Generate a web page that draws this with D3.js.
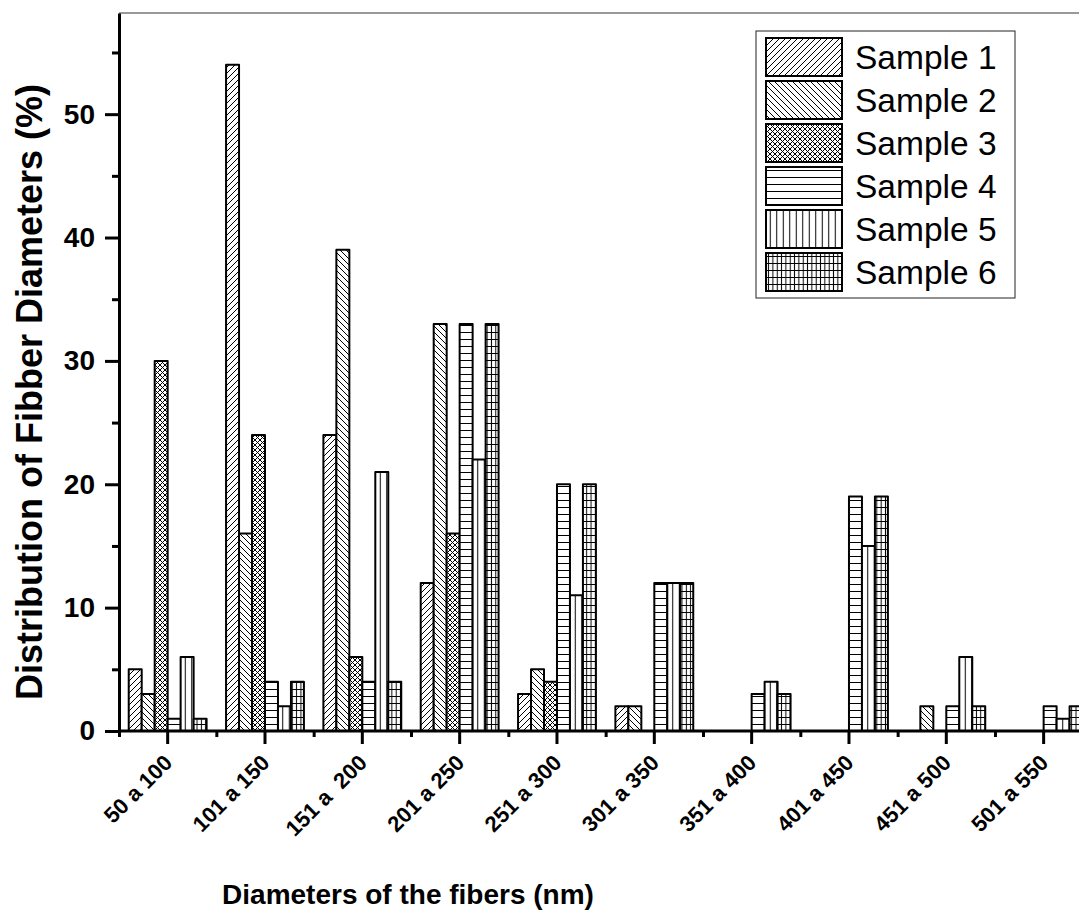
<!DOCTYPE html>
<html><head><meta charset="utf-8">
<script src="https://cdn.jsdelivr.net/npm/d3@7"></script>
<style>
html,body{margin:0;padding:0;background:#fff;}
svg text{font-family:"Liberation Sans",Arial,sans-serif;white-space:pre;}
</style></head>
<body>
<svg id="chart" width="1079" height="923"></svg>
<script>
const categories = ["50 a 100","101 a 150","151 a  200","201 a 250","251 a 300","301 a 350","351 a 400","401 a 450","451 a 500","501 a 550"];
const sampleNames = ["Sample 1","Sample 2","Sample 3","Sample 4","Sample 5","Sample 6"];
const sample1 = [5,54,24,12,3,2,0,0,0,0];
const sample2 = [3,16,39,33,5,2,0,0,2,0];
const sample3 = [30,24,6,16,4,0,0,0,0,0];
const sample4 = [1,4,4,33,20,12,3,19,2,2];
const sample5 = [6,2,21,22,11,12,4,15,6,1];
const sample6 = [1,4,4,33,20,12,3,19,2,2];
const majorYTicks = [0,10,20,30,40,50];
const minorYTicks = [5,15,25,35,45,55];
const series = [sample1,sample2,sample3,sample4,sample5,sample6];

const svg = d3.select("#chart");
const defs = svg.append("defs");
function pat(id,w,h,d){
  const p = defs.append("pattern").attr("id",id).attr("patternUnits","userSpaceOnUse").attr("width",w).attr("height",h);
  p.append("rect").attr("width",w).attr("height",h).attr("fill","#fff");
  p.append("path").attr("d",d).attr("stroke","#000").attr("stroke-width",1).attr("fill","none");
}
pat("p1",6,6,"M0,6L6,0M-1,1L1,-1M5,7L7,5");
pat("p2",6,6,"M0,0L6,6M-1,5L1,7M5,-1L7,1");
pat("p3",5,5,"M0,5L5,0M-1,1L1,-1M4,6L6,4M0,0L5,5M-1,4L1,6M4,-1L6,1");
pat("p4",8,7,"M0,3.5H8");
pat("p5",6.5,8,"M3.25,0V8");
pat("p6",4.33,7,"M2.16,0V7M0,3.5H4.33");

const x0 = 119, step = 97.33;
const x = d3.scaleBand().domain(categories).range([x0, x0+step*categories.length]).paddingInner(0.2).paddingOuter(0.1);
const xs = d3.scaleBand().domain(sampleNames).range([0, x.bandwidth()]);
const xi = d3.scaleLinear().domain([-0.5, categories.length-0.5]).range([x0, x0+step*categories.length]);
const y = d3.scaleLinear().domain([0,58.2]).range([731,13]);

// top frame line
svg.append("line").attr("x1",x0).attr("x2",1079).attr("y1",y(58.2)).attr("y2",y(58.2)).attr("stroke","#777").attr("stroke-width",1.5);

// bars
const bars = [];
series.forEach((s,si)=>s.forEach((v,ci)=>{ if(v>0) bars.push({si,ci,v}); }));
svg.append("g").selectAll("rect").data(bars).join("rect")
  .attr("x",d=>x(categories[d.ci])+xs(sampleNames[d.si]))
  .attr("width",xs.bandwidth())
  .attr("y",d=>y(d.v))
  .attr("height",d=>y(0)-y(d.v))
  .attr("fill",d=>`url(#p${d.si+1})`)
  .attr("stroke","#000").attr("stroke-width",2).attr("stroke-linejoin","round");

// axes
const yAx = svg.append("g").attr("transform",`translate(${x0},0)`)
  .call(d3.axisLeft(y).tickValues(majorYTicks).tickSize(14).tickSizeOuter(0).tickPadding(10));
const yMin = svg.append("g").attr("transform",`translate(${x0},0)`)
  .call(d3.axisLeft(y).tickValues(minorYTicks).tickSize(7).tickSizeOuter(0).tickFormat(""));
yMin.select(".domain").remove();
yAx.selectAll("text").style("font-size","28px").style("font-weight","bold").attr("fill","#000");

const xAx = svg.append("g").attr("transform",`translate(0,${y(0)})`)
  .call(d3.axisBottom(x).tickSize(13).tickSizeOuter(0));
xAx.select(".domain").attr("d",`M${x0},0H1079`);
xAx.selectAll("text").style("font-size","22px").style("font-weight","bold").attr("fill","#000")
  .attr("text-anchor","end").attr("dy",null).attr("y",null)
  .attr("transform","translate(6,33) rotate(-45)");
const xMin = svg.append("g").attr("transform",`translate(0,${y(0)})`)
  .call(d3.axisBottom(xi).tickValues(d3.range(-0.5,categories.length,1)).tickSize(6).tickSizeOuter(0).tickFormat(""));
xMin.select(".domain").remove();

svg.selectAll(".domain, .tick line").attr("stroke","#000").attr("stroke-width",3);

// axis titles
svg.append("text").attr("x",408).attr("y",904).attr("text-anchor","middle")
  .style("font-size","28px").style("font-weight","bold").text("Diameters of the fibers (nm)");
svg.append("text").attr("transform","translate(42,392) rotate(-90)").attr("text-anchor","middle")
  .style("font-size","36px").style("font-weight","bold").text("Distribution of Fibber Diameters (%)");

// legend
const lg = svg.append("g");
lg.append("rect").attr("x",756).attr("y",31).attr("width",259).attr("height",267).attr("fill","#fff").attr("stroke","#222").attr("stroke-width",1);
const ly = d3.scalePoint().domain(sampleNames).range([38,253]);
const items = lg.selectAll("g.it").data(sampleNames).join("g").attr("class","it").attr("transform",d=>`translate(0,${ly(d)})`);
items.append("rect").attr("x",766).attr("y",0).attr("width",76).attr("height",38)
  .attr("fill",(d,i)=>`url(#p${i+1})`).attr("stroke","#000").attr("stroke-width",2);
items.append("text").attr("x",855).attr("y",31).style("font-size","33.5px").attr("fill","#000").text(d=>d);
</script>
</body></html>
